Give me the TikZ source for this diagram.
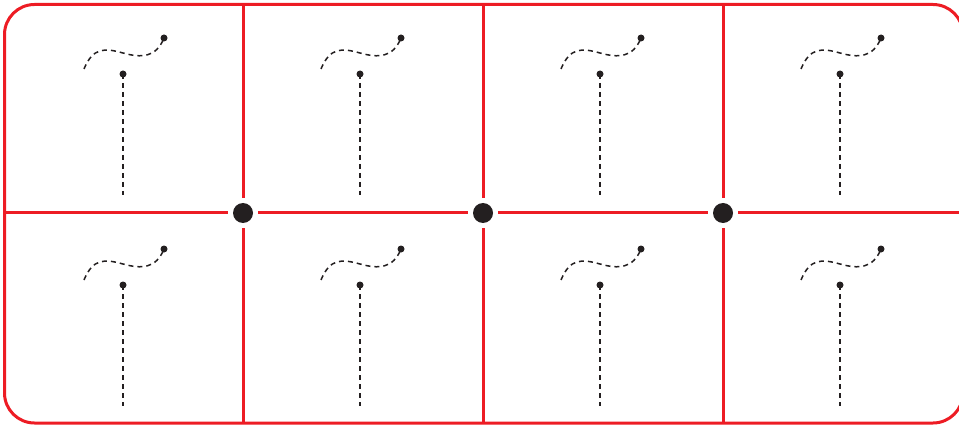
\documentclass[tikz,border=0pt]{standalone}
\definecolor{framered}{RGB}{237,28,36}
\definecolor{dotblack}{RGB}{35,31,32}
\tikzset{
  grid line/.style={framered, line width=0.09cm},
  junction/.style={circle, fill=dotblack, inner sep=0pt, minimum size=0.6cm, outer sep=0.15cm},
  trail/.style={dotblack, line width=0.045cm, dash pattern=on 0.15cm off 0.12cm},
}
\begin{document}
\begin{tikzpicture}[x=0.03cm, y=-0.03cm]
\useasboundingbox (0,0) rectangle (959,427);
% outer frame (right side runs past the page)
\draw[grid line, rounded corners=0.9cm] (4.5,4.5) rectangle (963,423);
% junctions
\node[junction] (j1) at (243,213) {};
\node[junction] (j2) at (483,213) {};
\node[junction] (j3) at (723,213) {};
\coordinate (left) at (4.5,213);
\coordinate (right) at (963,213);
\draw[grid line] (left) -- (j1) -- (j2) -- (j3) -- (right);
\foreach \j in {j1,j2,j3}{
  \draw[grid line] (\j) -- (\j |- 0,4.5);
  \draw[grid line] (\j) -- (\j |- 0,423);
}
% motifs in each cell
\foreach \x in {123,360,600,840}{
  \foreach \y in {74,285}{
    \begin{scope}[shift={(\x,\y)}]
      \draw[trail] (0,0) -- (0,121);
      \draw[trail] (-39,-5) .. controls (-30,-27) and (-18,-26) .. (0,-21)
                   .. controls (18,-16) and (33,-16) .. (41,-36);
      \fill[dotblack] (0,0) circle (3.5);
      \fill[dotblack] (41,-36) circle (3.5);
    \end{scope}
  }
}
\end{tikzpicture}
\end{document}
